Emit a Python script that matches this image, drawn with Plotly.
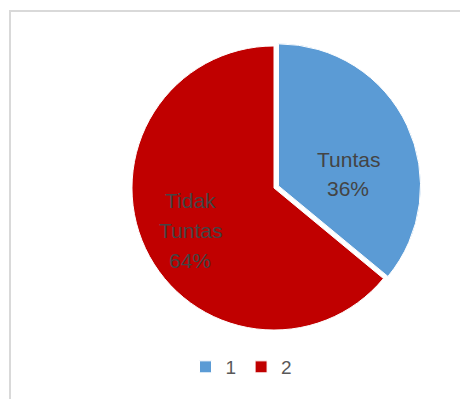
import plotly.graph_objects as go

# Category keys shown in the legend, their display names and shares
categories = ["1", "2"]
names = [["Tuntas"], ["Tidak", "Tuntas"]]
values = [36, 64]
colors = ["#5B9BD5", "#C00000"]

# Where each slice's data label block is centred (pixels) and its line pitch
label_centres = [(348, 174), (190, 230)]
line_pitch = 30

W, H = 460, 399
FONT = "Liberation Sans, Arial, sans-serif"

fig = go.Figure(
    go.Pie(
        labels=categories,
        values=values,
        sort=False,
        direction="clockwise",
        rotation=0,
        pull=[0.035, 0],
        marker=dict(colors=colors, line=dict(color="white", width=1)),
        textinfo="none",
        hoverinfo="label+percent",
        domain=dict(x=[127 / W, 421 / W], y=[64 / H, 358 / H]),
    )
)

# Data labels: category name followed by the percentage, one annotation per line
total = sum(values)
for name_lines, v, (cx, cy) in zip(names, values, label_centres):
    lines = name_lines + [f"{round(100 * v / total)}%"]
    n = len(lines)
    for i, txt in enumerate(lines):
        py = cy + (i - (n - 1) / 2) * line_pitch
        fig.add_annotation(
            x=cx / W, y=1 - py / H, xref="paper", yref="paper",
            text=txt, showarrow=False, xanchor="center", yanchor="middle",
            font=dict(family=FONT, size=21, color="#444444"),
        )

# Light grey frame of the chart area
fig.add_shape(
    type="rect", xref="paper", yref="paper",
    x0=10 / W, x1=1.2, y0=-0.2, y1=(H - 11) / H,
    line=dict(color="#D9D9D9", width=2), fillcolor="rgba(0,0,0,0)", layer="below",
)

fig.update_layout(
    width=W, height=H,
    margin=dict(l=0, r=0, t=0, b=0),
    paper_bgcolor="white",
    plot_bgcolor="white",
    showlegend=True,
    legend=dict(
        orientation="h", x=0.525, xanchor="center", y=(H - 367) / H, yanchor="middle",
        font=dict(family=FONT, size=19, color="#595959"),
        itemwidth=30, traceorder="normal",
    ),
)

fig.write_html("out.html")
